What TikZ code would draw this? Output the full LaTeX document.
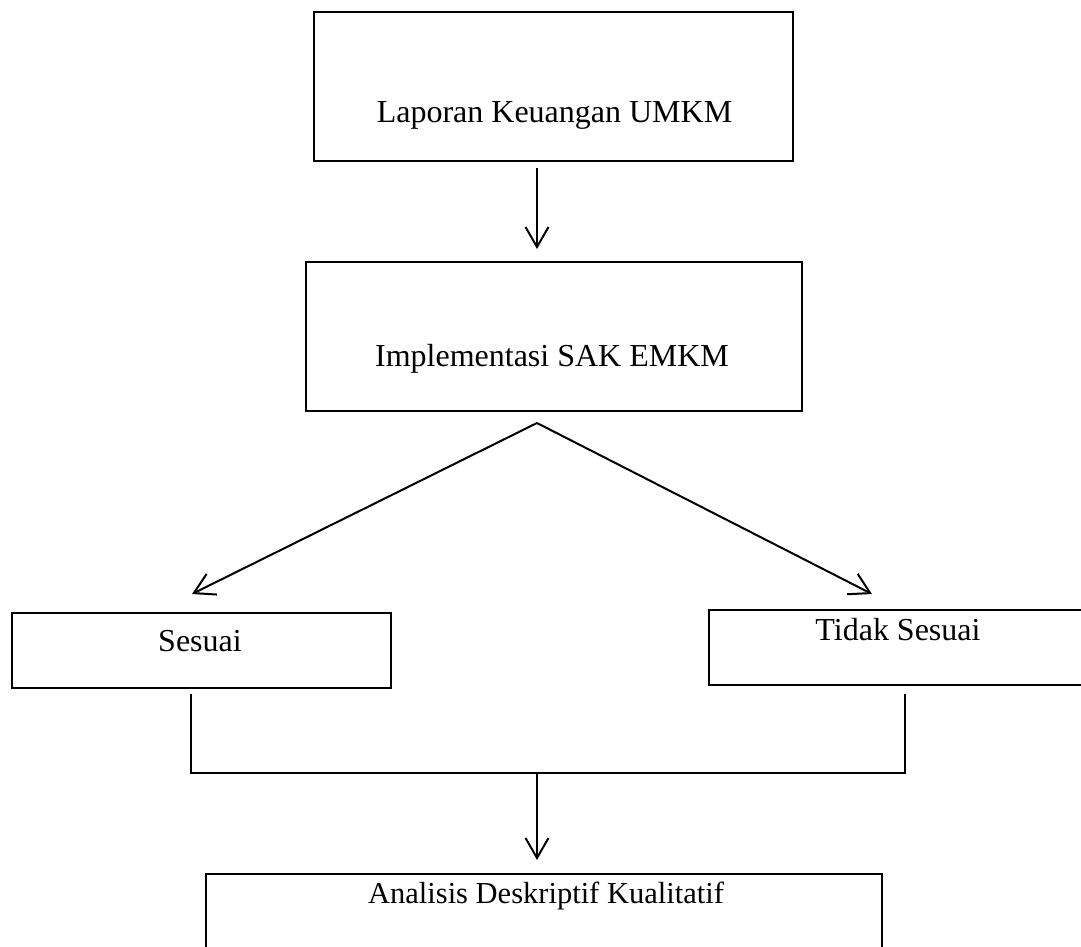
\documentclass[tikz,border=0pt]{standalone}
\usepackage{fontspec}
\setmainfont{Liberation Serif}
\usetikzlibrary{arrows.meta}
\begin{document}
\begin{tikzpicture}[x=1pt,y=-1pt,
  box/.style={draw=black, line width=2.6pt, inner sep=0pt, outer sep=0pt},
  lbl/.style={anchor=base, inner sep=0pt, font=\fontsize{32}{38}\selectfont},
  conn/.style={draw=black, line width=2pt},
  arr/.style={conn, -{Straight Barb[length=20pt,width=23pt,line width=2pt]}}]
\clip (0,0) rectangle (1081,947);
\useasboundingbox (0,0) rectangle (1081,947);
% boxes
\node[box, minimum width=479pt, minimum height=149pt] (lap) at (553.5,86.5) {};
\node[box, minimum width=496pt, minimum height=149pt] (impl) at (554,336.5) {};
\node[box, minimum width=379pt, minimum height=75pt] (ses) at (201.5,650.5) {};
\node[box, minimum width=381pt, minimum height=75pt] (tid) at (899.5,647.5) {};
\node[box, minimum width=676pt, minimum height=106pt] (ana) at (544,927) {};
% texts
\node[lbl] (tlap) at (554.5,123) {Laporan Keuangan UMKM};
\node[lbl] (timpl) at (552,366) {Implementasi SAK EMKM};
\node[lbl] (tses) at (200,651) {Sesuai};
\node[lbl] (ttid) at (898,640) {Tidak Sesuai};
\node[lbl, font=\fontsize{30.5}{36}\selectfont] (tana) at (546,903) {Analisis Deskriptif Kualitatif};
% connector points
\coordinate (a1s) at (537,168);
\coordinate (a1e) at (537,249);
\coordinate (apex) at (537,423);
\coordinate (tipL) at (192,594);
\coordinate (tipR) at (872,594);
\coordinate (dL) at (191,694);
\coordinate (dR) at (905,694);
\coordinate (jL) at (191,773);
\coordinate (jR) at (905,773);
\coordinate (jC) at (537,773);
\coordinate (a3e) at (537,860);
% connectors
\draw[arr] (a1s) -- (a1e);
\draw[arr] (apex) -- (tipL);
\draw[arr] (apex) -- (tipR);
\draw[conn] (dL) -- (jL) -- (jR) -- (dR);
\draw[arr] (jC) -- (a3e);
\end{tikzpicture}
\end{document}
